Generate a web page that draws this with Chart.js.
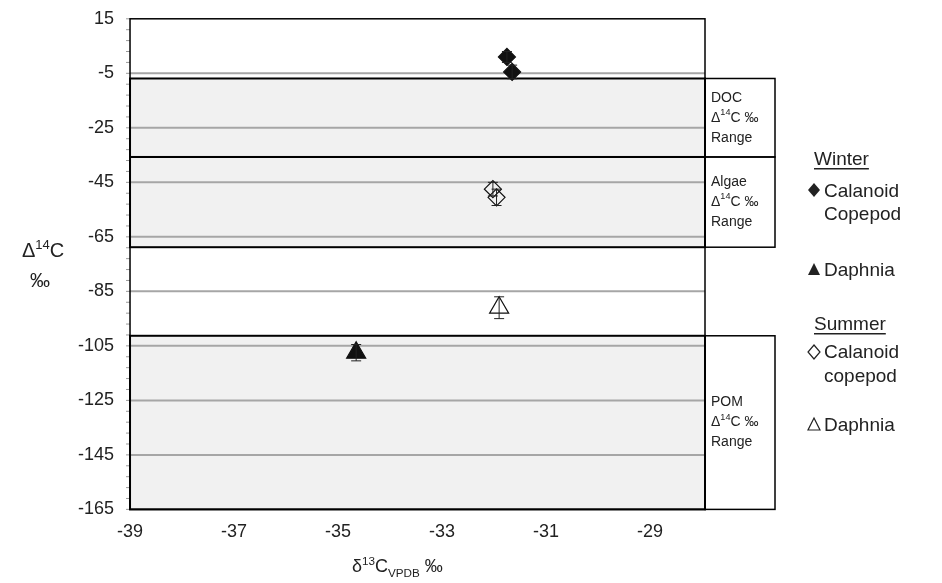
<!DOCTYPE html>
<html><head><meta charset="utf-8">
<script src="https://cdn.jsdelivr.net/npm/chart.js@4"></script>
<style>body{margin:0;background:#fff}#w{width:942px;height:583px}</style>
</head><body><div id="w"><canvas id="c"></canvas></div>
<script>
const xTicks=[-39,-37,-35,-33,-31,-29];
const yTicks=[15,-5,-25,-45,-65,-85,-105,-125,-145,-165];
const winterCopepod=[{x:-31.75,y:1,e:2},{x:-31.65,y:-4.5,e:2.5}];
const winterDaphnia=[{x:-34.65,y:-107.5,e:3}];
const summerCopepod=[{x:-32.02,y:-47.5,e:2.5},{x:-31.95,y:-50.5,e:3}];
const summerDaphnia=[{x:-31.9,y:-91,e:4}];
const ranges=[
 {name:['DOC','Δ14C ‰','Range'],lo:-35.7,hi:-6.9},
 {name:['Algae','Δ14C ‰','Range'],lo:-68.8,hi:-35.7},
 {name:['POM','Δ14C ‰','Range'],lo:-165,hi:-101.3}];
const F='"Liberation Sans", Arial, sans-serif';
function sup(ctx,parts,x,y,size){
  let cx=x;
  for(const [t,m] of parts){
    const s=m?size*0.65:size; ctx.font=s+'px '+F;
    const dy=m==='sup'?-size*0.4:m==='sub'?size*0.3:0;
    ctx.fillText(t,cx,y+dy); cx+=ctx.measureText(t).width;
  }
}
const bg={id:'bg',beforeDatasetsDraw(ch){
  const {ctx,scales:{x,y},chartArea:a}=ch;ctx.save();
  for(const r of ranges){
    const t=y.getPixelForValue(r.hi),b=y.getPixelForValue(r.lo);
    ctx.fillStyle='rgba(220,220,220,0.4)';ctx.fillRect(a.left,t,a.right-a.left,b-t);
  }
  ctx.strokeStyle='#a6a6a6';ctx.lineWidth=2;
  for(const v of yTicks.slice(1,-1)){const p=y.getPixelForValue(v);ctx.beginPath();ctx.moveTo(a.left,p);ctx.lineTo(a.right,p);ctx.stroke();}
  ctx.strokeStyle='#999';ctx.lineWidth=1;
  for(let v=-165;v<=15;v+=4){const p=y.getPixelForValue(v);ctx.beginPath();ctx.moveTo(a.left-4,p);ctx.lineTo(a.left,p);ctx.stroke();}
  ctx.strokeStyle='#000';ctx.lineWidth=1.5;
  ctx.strokeRect(a.left,a.top,a.right-a.left,a.bottom-a.top);
  ctx.lineWidth=2;
  for(const r of ranges){
    const t=y.getPixelForValue(r.hi),b=y.getPixelForValue(r.lo);
    ctx.strokeRect(a.left,t,a.right-a.left,b-t);
    ctx.lineWidth=1.5;ctx.strokeRect(a.right,t,70,b-t);ctx.lineWidth=2;
    const mid=(t+b)/2;ctx.fillStyle='#222';ctx.textBaseline='middle';
    ctx.font='14px '+F;ctx.fillText(r.name[0],a.right+6,mid-20);
    sup(ctx,[['Δ',''],['14','sup'],['C ‰','']],a.right+6,mid,14);
    ctx.font='14px '+F;ctx.fillText(r.name[2],a.right+6,mid+20);
  }
  ctx.restore();
},afterDatasetsDraw(ch){
  const {ctx,scales:{x,y}}=ch;ctx.save();
  ctx.strokeStyle='#222';ctx.lineWidth=1;
  for(const d of [winterCopepod,winterDaphnia,summerCopepod,summerDaphnia])for(const p of d){
    const px=x.getPixelForValue(p.x),t=y.getPixelForValue(p.y+p.e),b=y.getPixelForValue(p.y-p.e);
    ctx.beginPath();ctx.moveTo(px,t);ctx.lineTo(px,b);ctx.moveTo(px-5,t);ctx.lineTo(px+5,t);ctx.moveTo(px-5,b);ctx.lineTo(px+5,b);ctx.stroke();
  }
  ctx.restore();
},afterDraw(ch){
  const {ctx}=ch;ctx.save();ctx.fillStyle='#222';ctx.textBaseline='alphabetic';
  sup(ctx,[['Δ',''],['14','sup'],['C','']],22,257,20);
  ctx.font='20px '+F;ctx.fillText('‰',30,287);
  sup(ctx,[['δ',''],['13','sup'],['C',''],['VPDB','sub'],[' ‰','']],352,572,18);
  ctx.font='19px '+F;
  const L=808;
  ctx.fillText('Winter',L+6,165);ctx.fillRect(L+6,168,ctx.measureText('Winter').width,1.5);
  ctx.fillText('Summer',L+6,330);ctx.fillRect(L+6,333,ctx.measureText('Summer').width,1.5);
  ctx.fillText('Calanoid',L+16,197);ctx.fillText('Copepod',L+16,220);
  ctx.fillText('Daphnia',L+16,276);
  ctx.fillText('Calanoid',L+16,358);ctx.fillText('copepod',L+16,382);
  ctx.fillText('Daphnia',L+16,431);
  function dia(cx,cy,fill){ctx.beginPath();ctx.moveTo(cx,cy-7);ctx.lineTo(cx+6,cy);ctx.lineTo(cx,cy+7);ctx.lineTo(cx-6,cy);ctx.closePath();if(fill)ctx.fill();else{ctx.strokeStyle='#222';ctx.lineWidth=1.2;ctx.stroke();}}
  function tri(cx,cy,fill){ctx.beginPath();ctx.moveTo(cx,cy-7);ctx.lineTo(cx+6,cy+5);ctx.lineTo(cx-6,cy+5);ctx.closePath();if(fill)ctx.fill();else{ctx.strokeStyle='#222';ctx.lineWidth=1.2;ctx.stroke();}}
  dia(L+6,190,true);tri(L+6,270,true);dia(L+6,352,false);tri(L+6,425,false);
  ctx.restore();
}};
const mk=(d,style,fill)=>({data:d,pointStyle:style,pointRadius:style==='triangle'?11:8.5,backgroundColor:fill?'#111':'rgba(255,255,255,0)',borderColor:'#111',borderWidth:1.2});
new Chart(document.getElementById('c'),{type:'scatter',
 data:{datasets:[mk(winterCopepod,'rectRot',true),mk(winterDaphnia,'triangle',true),mk(summerCopepod,'rectRot',false),mk(summerDaphnia,'triangle',false)]},
 options:{responsive:true,maintainAspectRatio:false,animation:false,
  layout:{padding:{left:70,right:237,top:5,bottom:36}},
  plugins:{legend:{display:false},tooltip:{enabled:false}},
  scales:{
   x:{type:'linear',min:-39,max:-27.94,grid:{display:false},border:{display:false},
      afterBuildTicks:s=>{s.ticks=xTicks.map(v=>({value:v}));},
      ticks:{color:'#222',font:{size:18,family:F},padding:4}},
   y:{type:'linear',min:-165,max:15,grid:{display:false},border:{display:false},
      afterBuildTicks:s=>{s.ticks=yTicks.map(v=>({value:v}));},
      ticks:{color:'#222',font:{size:18,family:F},padding:8}}
  }},plugins:[bg]});
</script></body></html>
